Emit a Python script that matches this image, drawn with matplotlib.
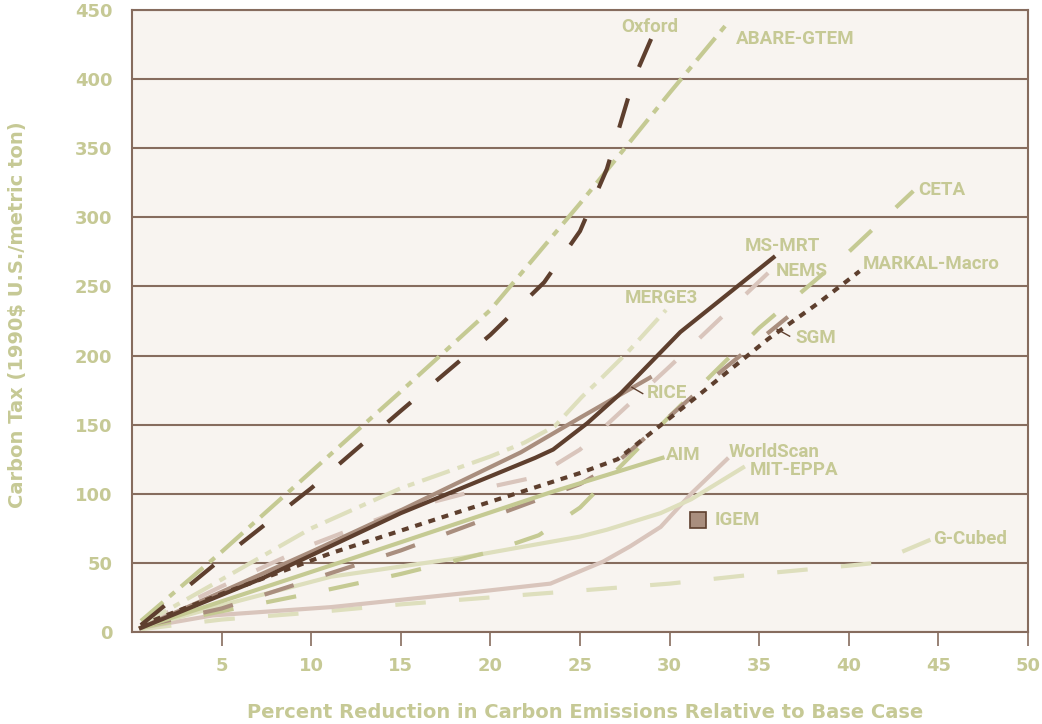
import matplotlib
matplotlib.use("Agg")
import matplotlib.pyplot as plt
from matplotlib import font_manager

# model cost curves: percent reduction (x) vs carbon tax (y)
oxford_x = [0.5, 5, 10, 15, 20, 23, 25, 26.5, 28, 29]
oxford_y = [5, 53, 104, 160, 215, 253, 290, 335, 400, 430]

abare_x = [0.5, 5, 10, 15, 20, 25, 30, 33.2]
abare_y = [8, 58, 116, 174, 233, 310, 390, 440]

ceta_x = [0.5, 5, 10, 15, 20, 22.7, 25, 30, 35, 40, 43.6]
ceta_y = [3, 15, 28, 42, 58, 70, 90, 156, 220, 275, 319]

msmrt_x = [0.5, 7.3, 15, 22.5, 23.5, 25.4, 27.3, 30.6, 35.8]
msmrt_y = [3, 39, 86, 126, 132, 151, 173, 217, 271]

nems_x = [0.5, 5, 10, 15, 20, 22.5, 25, 30, 35.6]
nems_y = [5, 33, 63, 88, 105, 112, 132, 192, 261]

markal_x = [0.5, 5.5, 11.1, 18.5, 25, 27.1, 31.3, 35.5, 38.3, 40.6]
markal_y = [5, 30, 57, 88, 115, 125, 168, 212, 238, 261]

merge3_x = [0.5, 5, 10, 15, 20, 21.9, 23.6, 25.1, 26.3, 27.7, 29.8]
merge3_y = [5, 38, 75, 104, 127, 137, 149, 170, 185, 203, 233]

sgm_x = [0.5, 5, 10, 15, 20, 25, 27, 30, 33, 36.6]
sgm_y = [4, 17, 38, 59, 83, 107, 122, 156, 190, 228]

rice_x = [0.5, 5, 10, 15, 21.7, 25, 28.9]
rice_y = [3, 29, 58, 88, 130, 155, 184]

aim_x = [0.5, 12, 23.35, 27.1, 29.6]
aim_y = [3, 52, 101, 116, 126]

worldscan_x = [0.5, 4.5, 11.1, 18.5, 23.35, 26.3, 27.8, 29.5, 31.2, 33.2]
worldscan_y = [3, 12, 18, 28, 35, 51, 62, 76, 100, 125]

miteppa_x = [0.5, 5.5, 11.1, 18.5, 25, 26.5, 29.5, 31.2, 34.1]
miteppa_y = [3, 21, 40, 54, 69, 74, 86, 96, 119]

gcubed_x = [0.5, 5, 10, 15, 20, 25, 30, 35, 40, 41.5, 44.6]
gcubed_y = [2, 9, 14, 20, 25, 30, 35, 42, 48, 50, 67]

igem_x = [31.6]
igem_y = [81]

x_ticks = [5, 10, 15, 20, 25, 30, 35, 40, 45, 50]
y_ticks = [0, 50, 100, 150, 200, 250, 300, 350, 400, 450]

# label text and anchor (left edge, vertical centre) in data units
label_names = ["Oxford", "ABARE-GTEM", "CETA", "MS-MRT", "NEMS", "MARKAL-Macro",
               "MERGE3", "SGM", "RICE", "AIM", "WorldScan", "MIT-EPPA", "IGEM", "G-Cubed"]
label_x = [27.3, 33.7, 43.9, 34.2, 35.9, 40.8, 27.5, 37.0, 28.7, 29.8, 33.3, 34.5, 32.5, 44.7]
label_y = [438, 429, 320, 279, 261, 266, 242, 213, 173, 128, 130, 117, 81, 67]

DARK = "#5e3f2e"
TAUPE = "#a98e7e"
PINK = "#d9c5bc"
OLIVE = "#c5ca93"
PALE = "#dedfbd"
TEXT = "#c6c995"
GRID = "#866c5e"

plt.rcParams["lines.scale_dashes"] = False
plt.rcParams["font.family"] = "DejaVu Sans"

names = {f.name for f in font_manager.fontManager.ttflist}
label_font = "Liberation Sans Narrow" if "Liberation Sans Narrow" in names else "Roboto"
label_size = 15 if label_font == "Liberation Sans Narrow" else 13.5

fig = plt.figure(figsize=(10.42, 7.24), dpi=100)
fig.patch.set_facecolor("white")
ax = fig.add_axes([132 / 1042, 1 - 632 / 724, 896 / 1042, 622 / 724])
ax.set_facecolor("#f8f4f0")

dashed = (0, (22, 24))
dashdot = (0, (21, 6, 5, 6))
dotted = (0, (5, 5))
lw = 3

ax.plot(gcubed_x, gcubed_y, color=PALE, lw=lw, ls=dashed)
ax.plot(worldscan_x, worldscan_y, color=PINK, lw=lw)
ax.plot(miteppa_x, miteppa_y, color=PALE, lw=lw)
ax.plot(ceta_x, ceta_y, color=OLIVE, lw=lw, ls=dashed)
ax.plot(sgm_x, sgm_y, color=TAUPE, lw=lw, ls=dashed)
ax.plot(aim_x, aim_y, color=OLIVE, lw=lw)
ax.plot(nems_x, nems_y, color=PINK, lw=lw, ls=dashed)
ax.plot(merge3_x, merge3_y, color=PALE, lw=lw, ls=dashdot)
ax.plot(rice_x, rice_y, color=TAUPE, lw=lw)
ax.plot(msmrt_x, msmrt_y, color=DARK, lw=lw)
ax.plot(markal_x, markal_y, color=DARK, lw=lw, ls=dotted)
ax.plot(abare_x, abare_y, color=OLIVE, lw=lw, ls=dashdot)
ax.plot(oxford_x, oxford_y, color=DARK, lw=lw, ls=dashed)
ax.plot(igem_x, igem_y, marker="s", ms=12, color=TAUPE, mec=DARK, mew=1.2, ls="none")

for name, lx, ly in zip(label_names, label_x, label_y):
    ax.text(lx, ly, name, color=TEXT, fontsize=label_size, fontweight="bold",
            family=label_font, ha="left", va="center")

# leader ticks for RICE and SGM labels
ax.plot([27.9, 28.5], [177, 172.5], color=DARK, lw=1)
ax.plot([36.0, 36.7], [219, 214], color=DARK, lw=1)

ax.set_xlim(0, 50)
ax.set_ylim(0, 450)
ax.set_xticks(x_ticks)
ax.set_yticks(y_ticks)
ax.yaxis.grid(True, color=GRID, lw=1.5)
ax.set_axisbelow(True)
for s in ax.spines.values():
    s.set_color(GRID)
    s.set_linewidth(1.5)

ax.tick_params(axis="x", direction="out", length=10, width=1.2, color=GRID,
               pad=8, labelsize=13, labelcolor=TEXT)
ax.tick_params(axis="y", length=0, pad=14, labelsize=13, labelcolor=TEXT)
for t in ax.get_xticklabels() + ax.get_yticklabels():
    t.set_fontweight("bold")

fig.text(585 / 1042, 1 - 712 / 724, "Percent Reduction in Carbon Emissions Relative to Base Case",
         color=TEXT, fontsize=14, fontweight="bold", ha="center", va="center")
fig.text(18 / 1042, 1 - 315 / 724, "Carbon Tax (1990$ U.S./metric ton)",
         color=TEXT, fontsize=14, fontweight="bold", ha="center", va="center", rotation=90)

fig.savefig("out.png", dpi=100, facecolor="white")
